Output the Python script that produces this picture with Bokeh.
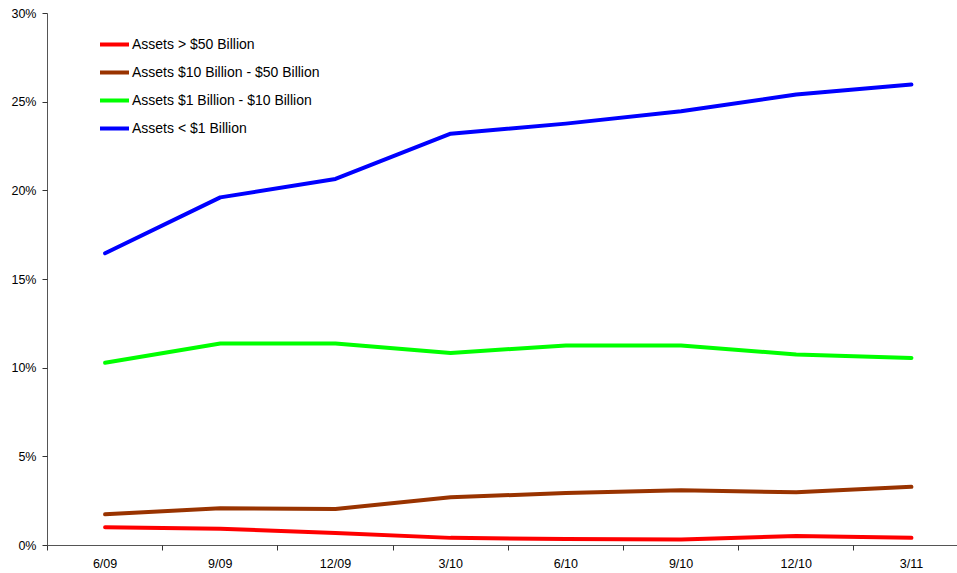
from bokeh.plotting import figure
from bokeh.models import FixedTicker, Range1d, Legend, LegendItem, ColumnDataSource
from bokeh.embed import file_html
from bokeh.resources import INLINE

quarters = ["6/09", "9/09", "12/09", "3/10", "6/10", "9/10", "12/10", "3/11"]
series_names = ["Assets > $50 Billion", "Assets $10 Billion - $50 Billion",
                "Assets $1 Billion - $10 Billion", "Assets < $1 Billion"]
large = [1.03, 0.94, 0.71, 0.43, 0.36, 0.34, 0.53, 0.43]
mid_large = [1.76, 2.10, 2.06, 2.72, 2.96, 3.11, 3.00, 3.31]
mid_small = [10.30, 11.39, 11.39, 10.86, 11.28, 11.28, 10.77, 10.58]
small = [16.48, 19.63, 20.67, 23.22, 23.79, 24.49, 25.43, 25.99]
colors = ["#FF0000", "#993300", "#00FF00", "#0000FF"]
y_ticks = [0, 5, 10, 15, 20, 25, 30]

xs = list(range(len(quarters)))
p = figure(width=957, height=573, output_backend="svg", toolbar_location=None,
           x_range=Range1d(-0.5, 7.40), y_range=Range1d(0, 30),
           min_border_left=47, min_border_top=13, min_border_right=0, min_border_bottom=0)
p.outline_line_color = None
p.xgrid.grid_line_color = None
p.ygrid.grid_line_color = None
p.background_fill_color = "white"

font = "Liberation Sans"
# x axis
p.xaxis.ticker = FixedTicker(ticks=xs, minor_ticks=[i - 0.5 for i in range(len(quarters) + 1)])
p.xaxis.major_label_overrides = {i: q for i, q in enumerate(quarters)}
p.xaxis.major_tick_line_color = None
p.xaxis.major_tick_out = 0
p.xaxis.major_tick_in = 0
p.xaxis.minor_tick_out = 5
p.xaxis.minor_tick_in = 0
p.xaxis.minor_tick_line_color = "#333333"
p.xaxis.axis_line_color = "#555555"
p.xaxis.major_label_standoff = 6
p.xaxis.major_label_text_font = font
p.xaxis.major_label_text_font_size = "12.5px"
p.xaxis.major_label_text_color = "#000000"

# y axis
p.yaxis.ticker = FixedTicker(ticks=y_ticks, minor_ticks=[])
p.yaxis.major_label_overrides = {t: f"{t}%" for t in y_ticks}
p.yaxis.major_tick_out = 5
p.yaxis.major_tick_in = 0
p.yaxis.major_tick_line_color = "#333333"
p.yaxis.axis_line_color = "#555555"
p.yaxis.major_label_standoff = 6
p.yaxis.major_label_text_font = font
p.yaxis.major_label_text_font_size = "12.5px"
p.yaxis.major_label_text_color = "#000000"

items = []
for name, vals, c in zip(series_names, [large, mid_large, mid_small, small], colors):
    src = ColumnDataSource(dict(x=xs, y=vals))
    r = p.line("x", "y", source=src, line_color=c, line_width=4,
               line_join="round", line_cap="round")
    items.append(LegendItem(label=name, renderers=[r]))

legend = Legend(items=items, location=(53, 407), padding=0, margin=0,
                spacing=8, glyph_width=29, glyph_height=20, label_height=20,
                label_standoff=3, label_text_font=font, label_text_font_size="14px",
                label_text_color="#000000", border_line_color=None,
                background_fill_alpha=0)
p.add_layout(legend, "center")

open("out.html", "w").write(file_html(p, INLINE))
